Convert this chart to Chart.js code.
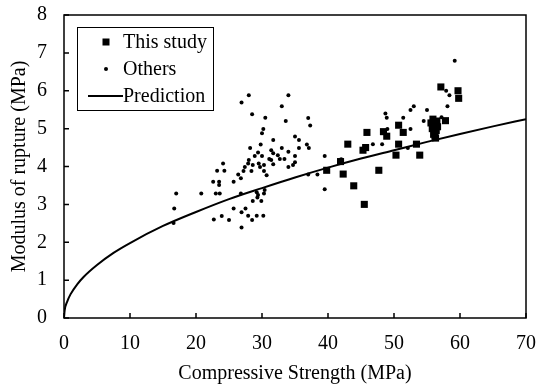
<!DOCTYPE html>
<html>
<head>
  <title>Modulus of rupture vs compressive strength</title>
  <script src="https://cdn.jsdelivr.net/npm/chart.js"></script>
  <style>
    body { margin: 0; background: #fff; }
  </style>
</head>
<body>
  <canvas id="morChart" width="536" height="385"></canvas>

  <script>
    // This study (MPa)
    const studyFc = [39.8, 41.9, 42.3, 43.0, 43.9, 45.5, 45.3, 45.7, 45.9, 47.7, 48.4, 48.9,
      50.7, 51.4, 50.7, 50.3, 53.4, 53.9, 57.1, 59.7, 59.8, 57.8,
      55.6, 55.8, 56.0, 56.2, 56.4, 56.6, 56.2, 55.9, 56.5, 56.0, 56.3];
    const studyFr = [3.90, 4.13, 3.80, 4.59, 3.49, 3.00, 4.43, 4.50, 4.90, 3.90, 4.92, 4.80,
      5.09, 4.90, 4.59, 4.30, 4.59, 4.30, 6.10, 6.00, 5.80, 5.21,
      5.15, 5.00, 4.85, 5.10, 4.95, 5.05, 4.80, 5.25, 5.20, 5.05, 4.75];

    // Data from other studies (MPa)
    const othersFc = [16.6, 16.7, 17.0, 20.8, 22.7, 22.6, 23.5, 23.5, 23.0, 23.6, 23.2, 24.3,
      24.1, 23.9, 25.0, 28.0, 26.9, 28.5, 30.5, 30.2, 30.0, 31.7, 29.8, 28.2,
      29.4, 28.9, 30.0, 31.1, 31.4, 28.0, 27.9, 28.6, 29.5, 29.7, 30.3, 31.7,
      27.4, 27.2, 28.4, 30.3, 30.7, 26.4, 26.8, 25.7, 26.8, 29.2, 29.4, 30.4,
      30.3, 28.6, 29.3, 29.9, 25.7, 27.5, 26.9, 27.9, 28.5, 29.2, 30.2, 26.9,
      34.0, 33.0, 33.6, 37.0, 37.3, 35.0, 35.6, 36.8, 37.1, 35.6, 33.0, 31.4,
      31.7, 34.0, 32.4, 32.7, 33.4, 35.0, 35.0, 34.7, 34.0, 37.0, 38.4, 39.5,
      39.5, 42.0, 46.8, 48.2, 48.7, 48.9, 49.0, 51.4, 52.5, 53.0, 52.5, 52.1,
      55.0, 54.5, 57.2, 58.1, 57.9, 58.4, 59.2];
    const othersFr = [2.51, 2.89, 3.29, 3.29, 2.60, 3.60, 3.60, 3.51, 3.29, 3.29, 3.89, 3.89,
      4.08, 2.69, 2.59, 5.88, 5.69, 5.38, 5.29, 4.99, 4.88, 4.70, 4.58, 4.49,
      4.37, 4.28, 4.28, 4.20, 4.17, 4.17, 4.08, 4.04, 4.08, 3.99, 4.04, 4.06,
      3.99, 3.88, 3.88, 3.88, 3.77, 3.79, 3.69, 3.60, 3.29, 3.32, 3.25, 3.38,
      3.29, 3.09, 3.18, 3.09, 2.89, 2.89, 2.79, 2.70, 2.59, 2.70, 2.70, 2.39,
      5.88, 5.59, 5.20, 5.28, 5.08, 4.79, 4.70, 4.58, 4.49, 4.49, 4.49, 4.43,
      4.35, 4.39, 4.30, 4.20, 4.20, 4.28, 4.11, 4.04, 3.99, 3.79, 3.79, 4.28,
      3.40, 4.19, 4.59, 4.59, 5.40, 5.29, 4.99, 5.29, 5.49, 5.59, 4.99, 4.49,
      5.49, 5.20, 5.30, 5.59, 6.00, 5.88, 6.79];

    // Prediction curve
    const predFc = [0, 0.1, 0.5, 1, 2, 3, 5, 7.5, 10, 15, 20, 25, 30, 35, 40, 45, 50, 55, 60, 65, 70];
    const predFr = [0, 0.20, 0.44, 0.63, 0.89, 1.09, 1.40, 1.72, 1.98, 2.43, 2.80, 3.14,
      3.43, 3.71, 3.97, 4.21, 4.43, 4.65, 4.86, 5.06, 5.25];

    const toXY = (xs, ys) => xs.map((v, i) => ({x: v, y: ys[i]}));

    const FONT = '"Liberation Serif", "Times New Roman", serif';
    Chart.defaults.font.family = FONT;
    Chart.defaults.font.size = 20;
    Chart.defaults.color = '#000';

    // box around the plot with short inward ticks
    const frameTicks = {
      id: 'frameTicks',
      afterDatasetsDraw(chart) {
        const {ctx, chartArea: a, scales: {x, y}} = chart;
        ctx.save();
        ctx.strokeStyle = '#000';
        ctx.lineWidth = 1.5;
        ctx.strokeRect(a.left, a.top, a.width, a.height);
        ctx.beginPath();
        x.ticks.forEach(t => {
          const px = x.getPixelForValue(t.value);
          ctx.moveTo(px, a.bottom);
          ctx.lineTo(px, a.bottom - 5);
        });
        y.ticks.forEach(t => {
          const py = y.getPixelForValue(t.value);
          ctx.moveTo(a.left, py);
          ctx.lineTo(a.left + 5, py);
        });
        ctx.stroke();
        ctx.restore();
      }
    };

    // legend in a framed box at the top-left of the plot
    const boxLegend = {
      id: 'boxLegend',
      afterDraw(chart) {
        const {ctx, chartArea: a} = chart;
        const bx = a.left + 13, by = a.top + 12;
        ctx.save();
        ctx.fillStyle = '#fff';
        ctx.fillRect(bx, by, 136, 83);
        ctx.strokeStyle = '#000';
        ctx.lineWidth = 1;
        ctx.strokeRect(bx + 0.5, by + 0.5, 136, 83);
        ctx.fillStyle = '#000';
        ctx.font = '20px ' + FONT;
        ctx.textBaseline = 'middle';
        const rows = [by + 15, by + 42, by + 69];
        // square marker
        ctx.fillRect(bx + 25.5, rows[0] - 3.5, 7, 7);
        // dot marker
        ctx.beginPath();
        ctx.arc(bx + 29, rows[1], 2, 0, Math.PI * 2);
        ctx.fill();
        // line marker
        ctx.lineWidth = 2;
        ctx.beginPath();
        ctx.moveTo(bx + 11, rows[2]);
        ctx.lineTo(bx + 46, rows[2]);
        ctx.stroke();
        chart.data.datasets.forEach((d, i) => ctx.fillText(d.label, bx + 46, rows[i] + 1));
        ctx.restore();
      }
    };

    new Chart(document.getElementById('morChart'), {
      type: 'scatter',
      data: {
        datasets: [
          {
            label: 'This study',
            data: toXY(studyFc, studyFr),
            pointStyle: 'rect',
            pointRadius: 5,
            pointBorderWidth: 0,
            backgroundColor: '#000',
            borderColor: '#000'
          },
          {
            label: 'Others',
            data: toXY(othersFc, othersFr),
            pointRadius: 2,
            pointBorderWidth: 0,
            backgroundColor: '#000',
            borderColor: '#000'
          },
          {
            label: 'Prediction',
            data: toXY(predFc, predFr),
            showLine: true,
            pointRadius: 0,
            borderWidth: 2,
            borderColor: '#000',
            cubicInterpolationMode: 'monotone'
          }
        ]
      },
      options: {
        responsive: false,
        animation: false,
        events: [],
        layout: {
          autoPadding: false,
          padding: {top: 15, right: 10, left: 0, bottom: 0}
        },
        plugins: {
          legend: {display: false},
          tooltip: {enabled: false}
        },
        scales: {
          x: {
            type: 'linear',
            min: 0,
            max: 70,
            ticks: {stepSize: 10, padding: 14},
            grid: {display: false, drawTicks: false},
            border: {display: false},
            title: {display: true, text: 'Compressive Strength (MPa)', padding: {top: 0, bottom: 1}, font: {lineHeight: 1}},
            afterFit(scale) {
              scale.height = 67;
              scale.paddingLeft = 0;
              scale.paddingRight = 0;
            }
          },
          y: {
            type: 'linear',
            min: 0,
            max: 8,
            ticks: {stepSize: 1, padding: 17},
            grid: {display: false, drawTicks: false},
            border: {display: false},
            title: {display: true, text: 'Modulus of rupture (MPa)', padding: {top: 10, bottom: 0}, font: {lineHeight: 1}},
            afterFit(scale) {
              scale.width = 64;
              scale.paddingTop = 0;
              scale.paddingBottom = 0;
            }
          }
        }
      },
      plugins: [frameTicks, boxLegend]
    });
  </script>
</body>
</html>
